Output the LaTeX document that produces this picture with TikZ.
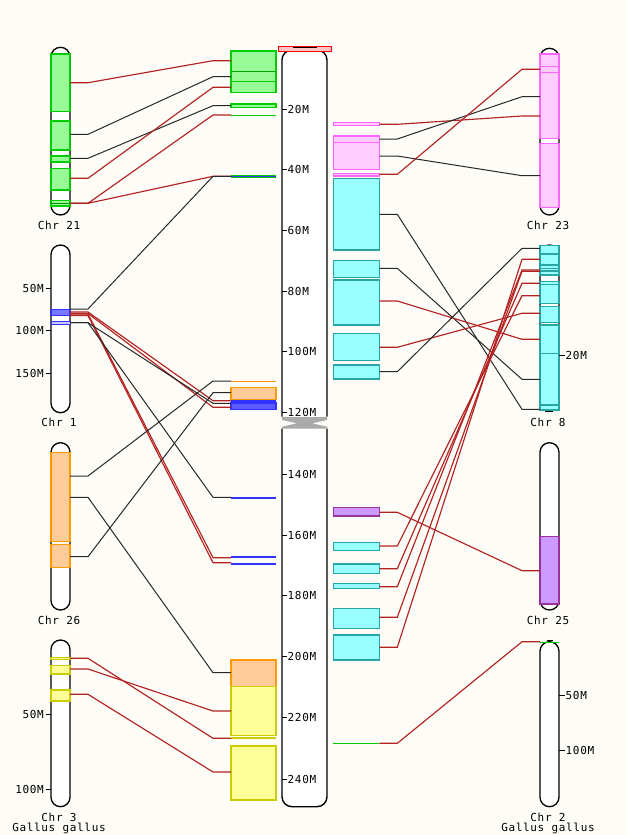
\documentclass[tikz,border=0pt]{standalone}
\usepackage{fontspec}
\newfontfamily\pix[LetterSpace=6]{DejaVu Sans Mono}
\definecolor{bg}{RGB}{253,252,246}
\definecolor{lred}{RGB}{178,34,34}
\definecolor{lblk}{RGB}{40,40,40}
\definecolor{gfill}{RGB}{152,251,152}
\definecolor{gline}{RGB}{0,204,0}
\definecolor{pfill}{RGB}{255,204,255}
\definecolor{pline}{RGB}{255,102,255}
\definecolor{cfill}{RGB}{153,255,255}
\definecolor{cline}{RGB}{40,165,165}
\definecolor{ofill}{RGB}{255,204,153}
\definecolor{oline}{RGB}{255,153,0}
\definecolor{yfill}{RGB}{255,255,153}
\definecolor{yline}{RGB}{204,204,0}
\definecolor{ufill}{RGB}{204,153,255}
\definecolor{uline}{RGB}{153,51,153}
\definecolor{bline}{RGB}{51,51,255}
\definecolor{gray1}{RGB}{170,170,170}
\tikzset{
  rl/.style={draw=lred, line width=1.15pt},
  bl/.style={draw=lblk, line width=1pt},
  chrom/.style={draw=black, line width=1.3pt, fill=white, rounded corners=9.5pt},
  lab/.style={font=\pix\fontsize{11}{12}\selectfont, inner sep=0pt, text=black},
  gbox/.style={fill=gfill, draw=gline, line width=1.3pt},
  pbox/.style={fill=pfill, draw=pline, line width=1.3pt},
  cbox/.style={fill=cfill, draw=cline, line width=1.3pt},
  obox/.style={fill=ofill, draw=oline, line width=1.3pt},
  ybox/.style={fill=yfill, draw=yline, line width=1.3pt},
  ubox/.style={fill=ufill, draw=uline, line width=1.3pt},
}
\newcommand\lk[4]{%
  \coordinate (#4s) at (#2); \coordinate (#4e) at (#3);
  \draw[#1] (#4s) -- ++(18,0) -- ([xshift=-18pt]#4e) -- (#4e);}
\begin{document}
\begin{tikzpicture}[x=1pt,y=-1pt]
\useasboundingbox (0,0) rectangle (627,835);
\fill[bg] (0,0) rectangle (627,835);

% ===== central chromosome =====
\draw[line width=1.4pt, fill=white, rounded corners=10pt] (282,416.7) -- (282,50) -- (327,50) [sharp corners] -- (327,416.7);
\draw[line width=1.4pt, fill=white, rounded corners=10pt] (282,428.5) -- (282,806.7) -- (327,806.7) [sharp corners] -- (327,428.5);
\fill[gray1] (282,417)--(327,417)--(327,420)--(312,423.3)--(327,426.7)--(327,428.5)--(282,428.5)--(282,426.7)--(297,423.3)--(282,420)--cycle;
\draw[draw=red, fill={rgb,255:red,255;green,195;blue,195}, line width=1pt] (278.5,46) rectangle (331,51.5);
\draw[line width=1.2pt] (293,47.6) -- (317,47.6);
\foreach \y/\t in {109/20M,169.3/40M,230/60M,291/80M,351.7/100M,412.7/120M,474.3/140M,535/160M,595.7/180M,656/200M,717.3/220M,779.3/240M}{
  \draw[line width=1pt] (282,\y) -- (286.5,\y);
  \node[lab,anchor=west] (c\t) at (287.5,\y) {\t};
}

% ===== left chromosomes =====
% Chr 21
\draw[chrom] (51,47.3) rectangle (70,215);
\foreach \a/\b in {54/111.7,121/150,156/162,168.7/190,200.7/206} \draw[gbox] (51,\a) rectangle (70,\b);
\draw[gline!70!black, line width=0.8pt] (51,203.5) -- (70,203.5);
\node[lab] (n21) at (59,225) {Chr 21};
% Chr 1
\draw[chrom] (51,245) rectangle (70,412.7);
\draw[fill={rgb,255:red,120;green,120;blue,255}, draw=bline, line width=1.3pt] (51,309.5) rectangle (70,315.5);
\draw[fill={rgb,255:red,200;green,200;blue,255}, draw=bline, line width=1pt] (51,321) rectangle (70,324);
\foreach \y/\t in {288.3/50M,330/100M,373.3/150M}{
  \draw[line width=1pt] (45.5,\y) -- (51,\y);
  \node[lab,anchor=east] (a\t) at (44,\y) {\t};
}
\node[lab] (n1) at (59,422.7) {Chr 1};
% Chr 26
\draw[chrom] (51,442.7) rectangle (70,610);
\foreach \a/\b in {452.7/541.7,544.3/567.3} \draw[obox] (51,\a) rectangle (70,\b);
\node[lab] (n26) at (59,620) {Chr 26};
% Chr 3
\draw[chrom] (51,640) rectangle (70,806.7);
\foreach \a/\b in {657.3/659.3,665.7/674,690/701} \draw[ybox] (51,\a) rectangle (70,\b);
\foreach \y/\t in {714.3/50M,789/100M}{
  \draw[line width=1pt] (45.5,\y) -- (51,\y);
  \node[lab,anchor=east] (b\t) at (44,\y) {\t};
}
\node[lab] (n3) at (59,817.3) {Chr 3};
\node[lab] (g1) at (59,828.3) {Gallus gallus};

% ===== right chromosomes =====
% Chr 23
\draw[chrom] (540,48.3) rectangle (559,215);
\foreach \a/\b in {54/138.3,143.3/207.3} \draw[pbox] (540,\a) rectangle (559,\b);
\foreach \y in {66,72.3} \draw[pline, line width=1pt] (540,\y) -- (559,\y);
\node[lab] (n23) at (548,225) {Chr 23};
% Chr 8
\draw[chrom] (540,245) rectangle (559,411);
\foreach \a/\b in {245.5/275,281.7/303.3,306.7/322.3,325/410} \draw[cbox] (540,\a) rectangle (559,\b);
\foreach \y in {254,265,268.3,271,284.3,353.3,405} \draw[cline, line width=1.2pt] (540,\y) -- (559,\y);
\draw[line width=1.2pt] (545,411.8) -- (553,411.8);
\draw[line width=1pt] (559,355.7) -- (564.5,355.7);
\node[lab,anchor=west] (r20M) at (565.5,355.7) {20M};
\node[lab] (n8) at (548,422.7) {Chr 8};
% Chr 25
\draw[chrom] (540,442.7) rectangle (559,610);
\draw[ubox] (540,536.7) rectangle (559,604);
\node[lab] (n25) at (548,620) {Chr 25};
% Chr 2
\draw[chrom] (540,641.7) rectangle (559,806.7);
\draw[gline, line width=1.5pt] (540,642.3) -- (559,642.3);
\draw[line width=1.2pt] (546.7,640.5) -- (552.7,640.5);
\foreach \y/\t in {695/50M,750.7/100M}{
  \draw[line width=1pt] (559,\y) -- (564.5,\y);
  \node[lab,anchor=west] (s\t) at (565.5,\y) {\t};
}
\node[lab] (n2) at (548,817.3) {Chr 2};
\node[lab] (g2) at (548,828.3) {Gallus gallus};

% ===== left column boxes (x 231-276) =====
\draw[gbox] (231,51) rectangle (276,92.3);
\draw[gline!80!black, line width=1.6pt] (231,71.3) -- (276,71.3);
\draw[gline, line width=1.2pt] (231,81.7) -- (276,81.7);
\draw[gbox] (231,104) rectangle (276,107.7);
\draw[gline, line width=1pt] (231,115) -- (276,115);
\draw[gline, line width=2.8pt] (231,176.3) -- (276,176.3);
\draw[bline, line width=1.6pt] (231,176.3) -- (276,176.3);
\draw[oline, line width=1pt] (231,381) -- (276,381);
\draw[obox] (231,387.7) rectangle (276,399.3);
\draw[bline, line width=1.6pt] (231,400.7) -- (276,400.7);
\draw[fill={rgb,255:red,90;green,90;blue,255}, draw=bline, line width=1.2pt] (231,403) rectangle (276,409.3);
\draw[bline, line width=2pt] (231,498) -- (276,498);
\draw[bline, line width=2pt] (231,557) -- (276,557);
\draw[bline, line width=2pt] (231,563.5) -- (276,563.5);
\draw[obox] (231,660) rectangle (276,686.7);
\draw[ybox] (231,686.7) rectangle (276,735.7);
\draw[yline, line width=2pt] (231,738.3) -- (276,738.3);
\draw[ybox] (231,746) rectangle (276,800);

% ===== right column boxes (x 333.3-379.3) =====
\draw[pbox] (333.3,122.3) rectangle (379.3,125.7);
\draw[pbox] (333.3,136) rectangle (379.3,169.3);
\draw[pline, line width=1.2pt] (333.3,142.3) -- (379.3,142.3);
\draw[pbox] (333.3,173.3) rectangle (379.3,176);
\foreach \a/\b in {178.3/250,260.7/277.3,280/325,333.3/360.7,365/379,542.7/550.7,564/573.3,583.3/588.3,608.3/628.3,635/660}
  \draw[cbox] (333.3,\a) rectangle (379.3,\b);
\draw[ubox] (333.3,507.7) rectangle (379.3,516);
\draw[gline, line width=1pt] (333.3,743.3) -- (379.3,743.3);

% ===== connectors, left side =====
\lk{rl}{70,82.7}{231,60.7}{L1}
\lk{bl}{70,134.3}{231,76.7}{L2}
\lk{bl}{70,158.3}{231,105.7}{L3}
\lk{rl}{70,178.3}{231,87.3}{L4}
\lk{rl}{70,203.3}{231,115}{L5}
\lk{rl}{70,203.3}{231,176.3}{L6}
\lk{bl}{70,309}{231,176.3}{L7}
\lk{rl}{70,312}{231,400.7}{L8}
\lk{rl}{70,313.5}{231,407.3}{L9}
\lk{rl}{70,314}{231,557.7}{L10}
\lk{rl}{70,315.5}{231,562.7}{L11}
\lk{bl}{70,322.7}{231,403.3}{L12}
\lk{bl}{70,322.7}{231,497.3}{L13}
\lk{bl}{70,476}{231,381}{L14}
\lk{bl}{70,497.3}{231,672.7}{L15}
\lk{bl}{70,556.7}{231,392.7}{L16}
\lk{rl}{70,658.3}{231,738.3}{L17}
\lk{rl}{70,669}{231,711}{L18}
\lk{rl}{70,694.3}{231,772}{L19}

% ===== connectors, right side =====
\lk{rl}{379.3,124.3}{540,116}{R1}
\lk{bl}{379.3,139}{540,96.7}{R2}
\lk{bl}{379.3,156}{540,175.7}{R3}
\lk{rl}{379.3,174.3}{540,69.3}{R4}
\lk{bl}{379.3,214.3}{540,409.3}{R5}
\lk{bl}{379.3,268.3}{540,379.3}{R6}
\lk{rl}{379.3,301}{540,339.3}{R7}
\lk{rl}{379.3,347.3}{540,313.3}{R8}
\lk{bl}{379.3,371.7}{540,248.3}{R9}
\lk{rl}{379.3,512.3}{540,570.7}{R10}
\lk{rl}{379.3,546}{540,295.7}{R11}
\lk{rl}{379.3,568.7}{540,283.3}{R12}
\lk{rl}{379.3,586.7}{540,270}{R13}
\lk{rl}{379.3,617.3}{540,271.3}{R14}
\lk{rl}{379.3,647.3}{540,259.3}{R15}
\lk{rl}{379.3,743.3}{540,641.7}{R16}
\end{tikzpicture}
\end{document}
